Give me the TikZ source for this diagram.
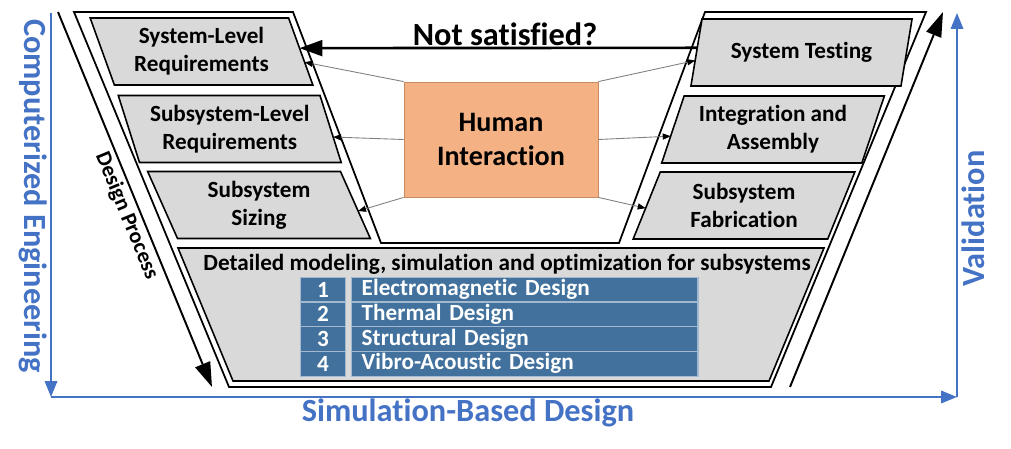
\documentclass[tikz,border=0pt]{standalone}
\usepackage{fontspec}
\setmainfont{Carlito}[Ligatures=NoCommon]
\usetikzlibrary{shapes.geometric,arrows.meta,calc}

\definecolor{boxgray}{HTML}{D9D9D9}
\definecolor{hiorange}{HTML}{F4B183}
\definecolor{hiedge}{HTML}{C9895E}
\definecolor{tblue}{HTML}{41719C}
\definecolor{tline}{HTML}{A3B9D0}
\definecolor{axisblue}{HTML}{4472C4}

\newcommand{\stagefont}{\fontsize{13.2}{16}\selectfont\bfseries}
\newcommand{\axisfont}{\fontsize{18.4}{22}\selectfont\bfseries}

\tikzset{
  leftstage/.style={trapezium, trapezium stretches=true, trapezium left angle=111.3, trapezium right angle=68.7,
    draw, line width=0.9pt, fill=boxgray, minimum width=4.46cm, minimum height=1.34cm,
    inner sep=0pt, outer sep=0pt, align=center, font=\stagefont},
  rightstage/.style={leftstage, trapezium left angle=68.7, trapezium right angle=111.3},
  cell/.style={rectangle, fill=tblue, draw=tline, line width=0.6pt, minimum height=0.494cm,
    inner ysep=0pt, text=white, font=\stagefont},
  link/.style={draw=gray, line width=0.5pt, -{Triangle[length=4.5pt,width=3.5pt,color=black]}},
  process/.style={line width=1.1pt, -{Triangle[length=14pt,width=9pt]}},
  axis/.style={draw=axisblue, line width=1.2pt},
  axislabel/.style={text=axisblue, font=\axisfont, inner sep=0pt}
}

\begin{document}
\begin{tikzpicture}[x=0.02cm,y=-0.02cm]
  \useasboundingbox (0,0) rectangle (1011,449);

  % blue axes
  \coordinate (ce) at (51,13);
  \coordinate (o) at (51,397);
  \coordinate (sb) at (957,397);
  \coordinate (va) at (957,13);
  \draw[axis,-{Triangle[length=9pt,width=7pt]}] (ce) -- (o);
  \draw[axis,-{Triangle[length=9pt,width=7pt]}] (o) -- (sb);
  \draw[axis,-{Triangle[length=9pt,width=7pt]}] (sb) -- (va);
  \node[axislabel, rotate=-90] (comp) at (33,196) {Computerized Engineering};
  \node[axislabel, rotate=90] (valid) at (973,218.5) {Validation};
  \node[axislabel] (simdesign) at (468,413) {Simulation-Based Design};

  % V frame
  \draw[line width=1pt] (74,12) -- (293,12) -- (381,243) -- (619,243) -- (705,12) -- (926,12)
    -- (771,387) -- (229,387) -- cycle;

  % design / validation arrows
  \coordinate (dstart) at (58,12);
  \coordinate (dend) at (212,387);
  \coordinate (vstart) at (790,387);
  \coordinate (vend) at (943,12);
  \draw[process] (dstart) -- (dend) node[pos=0.53, sloped, below, inner sep=2pt, font=\fontsize{12.5}{14}\selectfont\bfseries] (dlabel) {Design Process};
  \draw[process] (vstart) -- (vend);

  % stages
  \node[leftstage] (sysreq) at (201.5,51.5) {System-Level\\Requirements};
  \node[leftstage] (subreq) at (229.75,129) {Subsystem-Level\\Requirements};
  \node[leftstage] (sizing) at (259,205) {Subsystem\\Sizing};
  \node[rightstage] (systest) at (801.5,52.5) {System Testing};
  \node[rightstage] (integ) at (773,129.5) {Integration and\\Assembly};
  \node[rightstage] (fabric) at (744,205.5) {Subsystem\\Fabrication};

  % detailed design
  \coordinate (dtl) at (178,248);
  \coordinate (dtr) at (824,248);
  \coordinate (dbr) at (769,381);
  \coordinate (dbl) at (233,381);
  \draw[line width=0.9pt, fill=boxgray] (dtl) -- (dtr) -- (dbr) -- (dbl) -- cycle;
  \node[font=\stagefont] (dtitle) at (507,264) {Detailed modeling, simulation and optimization for subsystems};
  \foreach \n/\txt in {1/Electromagnetic Design,2/Thermal Design,3/Structural Design,4/Vibro-Acoustic Design}{
    \node[cell, minimum width=0.886cm] (num\n) at (322.9,264.95+24.7*\n) {\n};
    \node[cell, inner xsep=0.214cm, text width=6.512cm, align=left] (name\n) at (524.5,264.95+24.7*\n) {\txt};
  }

  % human interaction
  \node[draw=hiedge, line width=0.5pt, fill=hiorange, minimum width=3.88cm, minimum height=2.3cm,
    align=center, font=\fontsize{16}{19}\selectfont\bfseries] (hi) at (501,139.5) {Human\\Interaction};
  \foreach \src/\dst/\f in {north west/sysreq/0.66, west/subreq/0.62, south west/sizing/0.59}
    \draw[link] (hi.\src) -- ($(\dst.top right corner)!\f!(\dst.bottom right corner)$);
  \foreach \src/\dst/\f in {north east/systest/0.62, east/integ/0.6, south east/fabric/0.54}
    \draw[link] (hi.\src) -- ($(\dst.top left corner)!\f!(\dst.bottom left corner)$);

  % feedback loop
  \draw[line width=1.5pt, -{Triangle[length=13pt,width=9pt]}]
    ($(systest.top left corner)!0.43!(systest.bottom left corner)$) -- ($(sysreq.top right corner)!0.45!(sysreq.bottom right corner)$);
  \node[font=\axisfont] (notsat) at (505,34) {Not satisfied?};
\end{tikzpicture}
\end{document}
